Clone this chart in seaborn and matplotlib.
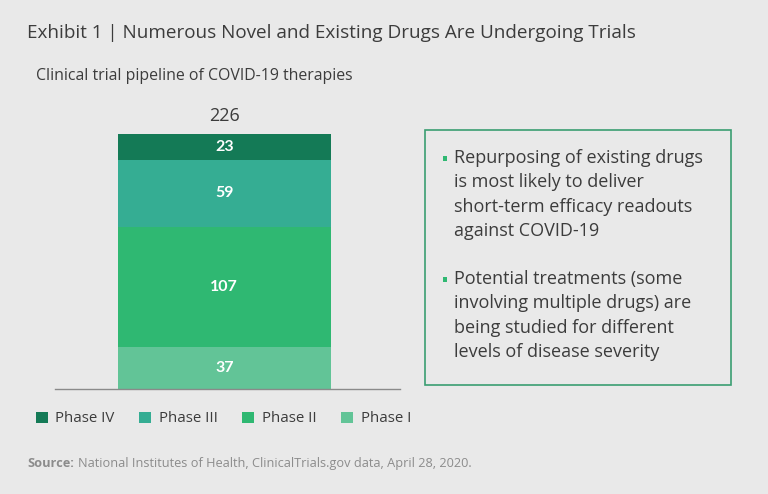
import matplotlib
matplotlib.use("Agg")
import matplotlib.pyplot as plt
import seaborn as sns
import pandas as pd
from matplotlib.patches import Patch, Rectangle

phases = ["Phase I", "Phase II", "Phase III", "Phase IV"]
counts = [37, 107, 59, 23]
colors = ["#62c497", "#2fb872", "#35ad93", "#147a56"]
legend_order = ["Phase IV", "Phase III", "Phase II", "Phase I"]

sns.set_theme(style="white")
FONT = ["Open Sans", "DejaVu Sans"]
plt.rcParams["font.family"] = FONT
BG = "#e9e9e9"
TXT = "#3c3c3c"

fig = plt.figure(figsize=(7.68, 4.94), dpi=100, facecolor=BG)
W, H = 768, 494
ax = fig.add_axes([55 / W, (H - 389) / H, 345 / W, 255 / H])
ax.set_facecolor(BG)

cum = []
s = 0
for c in counts:
    s += c
    cum.append(s)
total = cum[-1]

# draw cumulative bars from tallest to shortest
for i in range(len(phases) - 1, -1, -1):
    df = pd.DataFrame({"x": ["pipeline"], "y": [cum[i]]})
    sns.barplot(data=df, x="x", y="y", color=colors[i], saturation=1,
                width=0.8, ax=ax, linewidth=0)

ax.set_ylim(0, total)
ax.set_xlim(-0.636, 0.660)
for sp in ["top", "right", "left"]:
    ax.spines[sp].set_visible(False)
ax.spines["bottom"].set_color("#8a8a8a")
ax.spines["bottom"].set_linewidth(1.0)
ax.set_xticks([])
ax.set_yticks([])
ax.set_xlabel("")
ax.set_ylabel("")

bottoms = [0] + cum[:-1]
for b, c in zip(bottoms, counts):
    ax.text(0, b + c / 2, str(c), ha="center", va="center", color="white",
            fontsize=11.5, fontweight="bold", family=["Lato", "DejaVu Sans"])
ax.text(0, total + 8, str(total), ha="center", va="bottom", color=TXT,
        fontsize=13, clip_on=False)

# titles
fig.text(27 / W, 1 - 33 / H, "Exhibit 1 | Numerous Novel and Existing Drugs Are Undergoing Trials",
         ha="left", va="center", fontsize=13.6, color=TXT)
fig.text(36 / W, 1 - 76 / H, "Clinical trial pipeline of COVID-19 therapies",
         ha="left", va="center", fontsize=11.4, color=TXT)

# callout box
fig.patches.append(Rectangle((425 / W, 1 - 385 / H), 306 / W, 255 / H,
                             transform=fig.transFigure, facecolor="none",
                             edgecolor="#3a9e72", linewidth=1.2))
bullets = [
    ["Repurposing of existing drugs", "is most likely to deliver",
     "short-term efficacy readouts", "against COVID-19"],
    ["Potential treatments (some", "involving multiple drugs) are",
     "being studied for different", "levels of disease severity"],
]
starts = [158, 279]
for lines, y0 in zip(bullets, starts):
    fig.patches.append(Rectangle((443 / W, 1 - (y0 + 3) / H), 4 / W, 5 / H,
                                 transform=fig.transFigure, facecolor="#2fb872",
                                 edgecolor="none"))
    for k, line in enumerate(lines):
        fig.text(454 / W, 1 - (y0 + k * 24.3) / H, line, ha="left", va="center",
                 fontsize=13, color=TXT)

# legend
handles = [Patch(facecolor=colors[phases.index(p)], edgecolor="none", label=p)
           for p in legend_order]
fig.legend(handles=handles, loc="center left", bbox_to_anchor=(22 / W, 1 - 419 / H),
           ncol=4, frameon=False, fontsize=10.8, handlelength=0.8, handleheight=0.8,
           handletextpad=0.5, columnspacing=1.65, labelcolor=TXT)

# source
fig.text(27 / W, 1 - 463 / H, "Source:", ha="left", va="center", fontsize=9.2,
         color="#8c8c8c", fontweight="bold")
fig.text(78 / W, 1 - 463 / H,
         "National Institutes of Health, ClinicalTrials.gov data, April 28, 2020.",
         ha="left", va="center", fontsize=9.2, color="#8c8c8c")

fig.savefig("out.png", dpi=100, facecolor=BG)
